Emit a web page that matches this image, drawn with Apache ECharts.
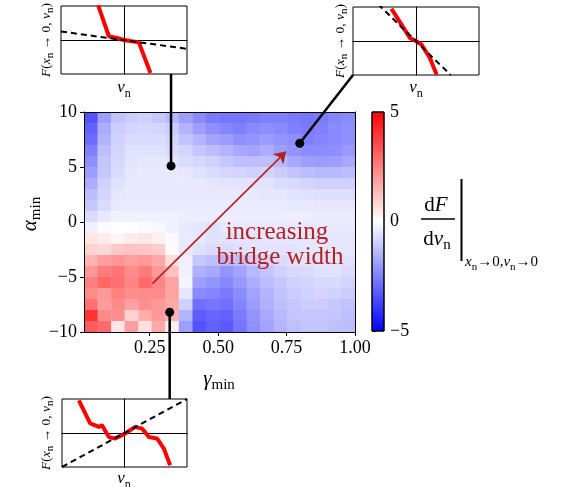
<!DOCTYPE html>
<html>
<head>
<meta charset="utf-8">
<script src="https://cdn.jsdelivr.net/npm/echarts@6/dist/echarts.min.js"></script>
<style>
html, body { margin: 0; padding: 0; background: #fff; }
#chart { width: 568px; height: 487px; }
</style>
</head>
<body>
<div id="chart"></div>
<script>
// cell centres of the scan
const gammaCenters = [0.035, 0.084, 0.134, 0.183, 0.233, 0.282, 0.332, 0.381, 0.431, 0.480,
  0.530, 0.579, 0.629, 0.678, 0.728, 0.777, 0.827, 0.876, 0.926, 0.975];
const alphaCenters = [9.5, 8.5, 7.5, 6.5, 5.5, 4.5, 3.5, 2.5, 1.5, 0.5,
  -0.5, -1.5, -2.5, -3.5, -4.5, -5.5, -6.5, -7.5, -8.5, -9.5];
// dF/dv at the origin, one row per alpha (top row first)
const dFdv = [
  [-3.4, -1.9, -1.2, -1.0, -0.9, -1.1, -1.4, -1.9, -2.3, -2.6, -2.7, -2.7, -2.6, -2.5, -2.5, -2.6, -2.7, -2.6, -2.4, -2.3],
  [-3.1, -1.6, -1.0, -0.85, -0.8, -0.85, -1.0, -1.5, -1.9, -2.2, -2.4, -2.5, -2.3, -2.2, -2.3, -2.5, -2.6, -2.5, -2.3, -2.2],
  [-2.9, -1.5, -0.9, -0.7, -0.7, -0.7, -0.85, -1.2, -1.45, -1.8, -1.95, -2.2, -2.1, -1.95, -2.1, -2.2, -2.5, -2.4, -2.3, -2.2],
  [-2.5, -1.3, -0.85, -0.6, -0.6, -0.6, -0.7, -0.85, -1.1, -1.3, -1.5, -1.7, -1.8, -1.6, -1.9, -2.1, -2.25, -2.25, -2.2, -2.0],
  [-2.2, -1.15, -0.8, -0.55, -0.5, -0.5, -0.55, -0.7, -0.8, -0.9, -1.1, -1.25, -1.3, -1.25, -1.4, -1.7, -1.9, -1.95, -1.9, -1.7],
  [-1.9, -1.1, -0.7, -0.5, -0.45, -0.45, -0.45, -0.5, -0.6, -0.7, -0.8, -0.85, -0.9, -0.85, -1.0, -1.2, -1.3, -1.4, -1.4, -1.3],
  [-1.6, -0.9, -0.6, -0.45, -0.45, -0.45, -0.45, -0.45, -0.45, -0.5, -0.55, -0.55, -0.55, -0.55, -0.7, -0.75, -0.85, -0.9, -0.9, -0.9],
  [-1.3, -0.85, -0.5, -0.45, -0.45, -0.45, -0.45, -0.45, -0.45, -0.45, -0.45, -0.45, -0.45, -0.5, -0.5, -0.55, -0.6, -0.65, -0.65, -0.65],
  [-1.1, -0.7, -0.45, -0.4, -0.4, -0.4, -0.4, -0.4, -0.4, -0.4, -0.4, -0.4, -0.4, -0.4, -0.4, -0.45, -0.45, -0.5, -0.5, -0.5],
  [-0.7, -0.45, -0.3, -0.3, -0.3, -0.3, -0.3, -0.35, -0.35, -0.35, -0.35, -0.35, -0.35, -0.35, -0.35, -0.35, -0.35, -0.4, -0.4, -0.4],
  [-0.3, -0.1, 0.0, 0.0, -0.1, -0.15, -0.3, -0.45, -0.5, -0.6, -0.45, -0.45, -0.45, -0.45, -0.45, -0.45, -0.45, -0.45, -0.45, -0.45],
  [0.5, 0.35, 0.2, 0.4, 0.5, 0.3, -0.1, -0.4, -0.5, -0.6, -0.55, -0.55, -0.55, -0.5, -0.5, -0.5, -0.5, -0.5, -0.5, -0.5],
  [0.9, 0.75, 1.1, 1.2, 1.15, 1.0, 0.1, -0.45, -0.6, -0.7, -0.7, -0.6, -0.55, -0.55, -0.55, -0.55, -0.5, -0.5, -0.5, -0.5],
  [1.5, 1.9, 2.1, 1.9, 2.0, 1.7, 0.65, -0.3, -1.1, -1.25, -1.4, -1.25, -1.0, -0.85, -0.7, -0.6, -0.55, -0.55, -0.55, -0.6],
  [2.0, 2.6, 2.7, 2.3, 2.6, 2.0, 1.25, -0.3, -1.55, -1.7, -2.1, -1.8, -1.4, -1.15, -0.9, -0.75, -0.7, -0.6, -0.6, -0.7],
  [2.5, 3.0, 2.8, 2.4, 2.9, 2.4, 1.8, -0.2, -1.9, -2.1, -2.35, -2.0, -1.6, -1.3, -1.1, -0.9, -0.85, -0.75, -0.75, -0.85],
  [2.3, 2.0, 2.5, 2.25, 2.3, 2.3, 1.8, -0.5, -2.3, -2.4, -2.6, -2.25, -1.8, -1.5, -1.2, -1.0, -0.9, -0.85, -0.9, -1.0],
  [2.8, 1.95, 2.3, 1.85, 2.2, 2.0, 1.7, -0.9, -2.8, -2.7, -2.8, -2.4, -1.95, -1.55, -1.25, -1.1, -1.0, -1.0, -1.1, -1.2],
  [4.0, 2.3, 2.2, 0.9, 1.6, 2.0, 1.55, -1.5, -3.2, -3.0, -3.1, -2.6, -2.1, -1.7, -1.4, -1.15, -1.1, -1.1, -1.15, -1.25],
  [3.2, 2.9, 0.5, 1.9, 0.6, 1.7, 0.3, -1.9, -3.4, -3.1, -3.25, -2.7, -2.2, -1.8, -1.5, -1.25, -1.15, -1.15, -1.25, -1.3]
];
const gammaTicks = [0.25, 0.5, 0.75, 1.0];
const colorTicks = [-5, 0, 5];

// picked points (gamma, alpha)
const pickGamma = [0.328, 0.798, 0.323];
const pickAlpha = [5.1, 7.15, -8.2];
// arrow "increasing bridge width"
const arrowGamma = [0.26, 0.748];
const arrowAlpha = [-5.6, 6.4];

// inset force curves F(v_n), normalised
const curveAx = [-0.41, -0.24, -0.1, 0.0, 0.1, 0.235, 0.42];
const curveAy = [1.02, 0.11, 0.05, 0.0, -0.03, -0.07, -0.97];
const slopeAx = [-1, 1];
const slopeAy = [0.25, -0.26];
const curveBx = [-0.39, -0.23, -0.095, 0.0, 0.09, 0.22, 0.33];
const curveBy = [0.95, 0.48, 0.085, 0.0, -0.11, -0.5, -1.0];
const slopeBx = [-0.6, 0.55];
const slopeBy = [1.08, -1.0];
const curveCx = [-0.73, -0.55, -0.41, -0.36, -0.25, -0.15, 0.01, 0.17, 0.28, 0.39, 0.52, 0.63, 0.73];
const curveCy = [0.96, 0.28, 0.18, 0.23, -0.12, -0.16, -0.02, 0.18, 0.13, -0.12, -0.16, -0.46, -0.95];
const slopeCx = [-1, 1];
const slopeCy = [-1, 1];

const serif = "'Liberation Serif', 'DejaVu Serif', serif";
const red = '#b22222';
const cellW = 0.0495, cellH = 1;

let heatData = [];
alphaCenters.forEach(function (a, r) {
  gammaCenters.forEach(function (g, c) {
    heatData.push([g, a, dFdv[r][c]]);
  });
});

function zip(xs, ys) {
  return xs.map(function (x, i) { return [x, ys[i]]; });
}
function minus(v) {
  return String(v).replace('-', '\u2212');
}

function insetX(gi) {
  return {
    gridIndex: gi, type: 'value', min: -1, max: 1,
    axisLine: { show: true, onZero: true, lineStyle: { color: '#000', width: 1 } },
    axisTick: { show: false }, axisLabel: { show: false }, splitLine: { show: false }
  };
}
function insetY(gi) {
  return {
    gridIndex: gi, type: 'value', min: -1, max: 1,
    axisLine: { show: true, onZero: true, lineStyle: { color: '#000', width: 1 } },
    axisTick: { show: false }, axisLabel: { show: false }, splitLine: { show: false }
  };
}
function redCurve(ai, xs, ys) {
  return {
    type: 'line', xAxisIndex: ai, yAxisIndex: ai, data: zip(xs, ys),
    symbol: 'none', clip: true, animation: false,
    lineStyle: { color: '#ff0000', width: 4 }
  };
}
function dashed(ai, xs, ys) {
  return {
    type: 'line', xAxisIndex: ai, yAxisIndex: ai, data: zip(xs, ys),
    symbol: 'none', clip: true, animation: false,
    lineStyle: { color: '#000', width: 2, type: [6, 4] }
  };
}

let chart = echarts.init(document.getElementById('chart'));

let option = {
  animation: false,
  backgroundColor: '#fff',
  grid: [
    { left: 84, top: 112, width: 271, height: 220 },
    { left: 372, top: 112, width: 12, height: 219 },
    { left: 61, top: 6, width: 126, height: 68, show: true, borderColor: '#000', borderWidth: 1 },
    { left: 353, top: 7, width: 126, height: 68, show: true, borderColor: '#000', borderWidth: 1 },
    { left: 62, top: 399, width: 125, height: 68, show: true, borderColor: '#000', borderWidth: 1 }
  ],
  visualMap: {
    type: 'continuous', show: false, min: -5, max: 5, dimension: 2, seriesIndex: 0,
    inRange: { color: ['#0000ff', '#ffffff', '#ff0000'] }
  },
  xAxis: [
    {
      gridIndex: 0, type: 'value', min: 0.01, max: 1, z: 10,
      axisLine: { show: true, onZero: false, lineStyle: { color: '#000', width: 1 } },
      axisTick: { show: true, length: 4, customValues: gammaTicks, lineStyle: { color: '#000' } },
      axisLabel: {
        customValues: gammaTicks, color: '#000', fontFamily: serif, fontSize: 18, margin: 7,
        formatter: function (v) { return v.toFixed(2); }
      },
      splitLine: { show: false }
    },
    {
      gridIndex: 0, type: 'value', min: 0.01, max: 1, position: 'top', z: 10,
      axisLine: { show: true, onZero: false, lineStyle: { color: '#000', width: 1 } },
      axisTick: { show: false }, axisLabel: { show: false }, splitLine: { show: false }
    },
    { gridIndex: 1, type: 'value', min: 0, max: 1, show: false },
    insetX(2), insetX(3), insetX(4)
  ],
  yAxis: [
    {
      gridIndex: 0, type: 'value', min: -10, max: 10, interval: 5, z: 10,
      axisLine: { show: true, onZero: false, lineStyle: { color: '#000', width: 1 } },
      axisTick: { show: true, length: 4, lineStyle: { color: '#000' } },
      axisLabel: { color: '#000', fontFamily: serif, fontSize: 18, margin: 7, formatter: minus },
      splitLine: { show: false }
    },
    {
      gridIndex: 0, type: 'value', min: -10, max: 10, position: 'right', z: 10,
      axisLine: { show: true, onZero: false, lineStyle: { color: '#000', width: 1 } },
      axisTick: { show: false }, axisLabel: { show: false }, splitLine: { show: false }
    },
    {
      gridIndex: 1, type: 'value', min: -5, max: 5, interval: 5, position: 'right',
      axisLine: { show: false },
      axisTick: { show: true, length: 4, lineStyle: { color: '#000' } },
      axisLabel: { color: '#000', fontFamily: serif, fontSize: 18, margin: 6, formatter: minus },
      splitLine: { show: false }
    },
    insetY(2), insetY(3), insetY(4)
  ],
  series: [
    {
      type: 'custom', xAxisIndex: 0, yAxisIndex: 0, data: heatData, encode: { x: 0, y: 1 },
      renderItem: function (params, api) {
        let g = api.value(0), a = api.value(1);
        let p1 = api.coord([g - cellW / 2, a + cellH / 2]);
        let p2 = api.coord([g + cellW / 2, a - cellH / 2]);
        return {
          type: 'rect',
          shape: { x: p1[0], y: p1[1], width: p2[0] - p1[0] + 0.5, height: p2[1] - p1[1] + 0.5 },
          style: { fill: api.visual('color') }
        };
      }
    },
    {
      type: 'custom', xAxisIndex: 2, yAxisIndex: 2, data: [[0, colorTicks[0], colorTicks[2]]],
      renderItem: function (params, api) {
        let p1 = api.coord([0, api.value(2)]);
        let p2 = api.coord([1, api.value(1)]);
        return {
          type: 'rect',
          shape: { x: p1[0], y: p1[1], width: p2[0] - p1[0], height: p2[1] - p1[1] },
          style: {
            fill: new echarts.graphic.LinearGradient(0, 0, 0, 1, [
              { offset: 0, color: '#ff0000' },
              { offset: 0.5, color: '#ffffff' },
              { offset: 1, color: '#0000ff' }
            ]),
            stroke: '#000', lineWidth: 1
          }
        };
      }
    },
    {
      type: 'lines', coordinateSystem: 'cartesian2d', xAxisIndex: 0, yAxisIndex: 0, z: 4,
      symbol: ['none', 'arrow'], symbolSize: 11,
      lineStyle: { color: red, width: 1.6, opacity: 1 },
      data: [{ coords: zip(arrowGamma, arrowAlpha) }]
    },
    {
      type: 'scatter', xAxisIndex: 0, yAxisIndex: 0, z: 6, symbolSize: 9,
      itemStyle: { color: '#000', opacity: 1 },
      data: zip(pickGamma, pickAlpha)
    },
    redCurve(3, curveAx, curveAy), dashed(3, slopeAx, slopeAy),
    redCurve(4, curveBx, curveBy), dashed(4, slopeBx, slopeBy),
    redCurve(5, curveCx, curveCy), dashed(5, slopeCx, slopeCy)
  ]
};
chart.setOption(option);

// texts and connectors
let pA = chart.convertToPixel({ gridIndex: 0 }, [pickGamma[0], pickAlpha[0]]);
let pB = chart.convertToPixel({ gridIndex: 0 }, [pickGamma[1], pickAlpha[1]]);
let pC = chart.convertToPixel({ gridIndex: 0 }, [pickGamma[2], pickAlpha[2]]);

const richMath = function (size, subScale) {
  return {
    i: { fontFamily: serif, fontStyle: 'italic', fontSize: size, lineHeight: size + 6, color: '#000' },
    r: { fontFamily: serif, fontSize: size, lineHeight: size + 6, color: '#000' },
    s: { fontFamily: serif, fontSize: Math.round(size * (subScale || 0.7)), lineHeight: size + 6, verticalAlign: 'bottom', color: '#000' }
  };
};
function mathText(x, y, text, size, rot, align, subScale) {
  return {
    type: 'text', x: x, y: y, rotation: rot || 0, z: 3,
    style: { text: text, rich: richMath(size, subScale), align: align || 'center', verticalAlign: 'middle' }
  };
}
function stick(x1, y1, x2, y2, w) {
  return {
    type: 'line', z: 3, shape: { x1: x1, y1: y1, x2: x2, y2: y2 },
    style: { stroke: '#000', lineWidth: w }
  };
}

const fLabel = '{i|F}{r|(}{i|x}{s|n}{r| → 0, }{i|v}{s|n}{r|)}';
chart.setOption({
  graphic: [
    stick(pA[0], pA[1], pA[0], 74, 2.5),
    stick(pB[0], pB[1], 353, 75, 2.5),
    stick(pC[0], pC[1], pC[0], 399, 2.5),
    mathText(30, 214, '{i|α}{s|min}', 21, Math.PI / 2),
    mathText(219, 379, '{i|γ}{s|min}', 21, 0),
    {
      type: 'text', x: 277, y: 232, z: 3,
      style: { text: 'increasing', fontFamily: serif, fontSize: 25, fill: red, align: 'center', verticalAlign: 'middle' }
    },
    {
      type: 'text', x: 280, y: 257, z: 3,
      style: { text: 'bridge width', fontFamily: serif, fontSize: 25, fill: red, align: 'center', verticalAlign: 'middle' }
    },
    mathText(436, 205, '{r|d}{i|F}', 21, 0),
    stick(421, 219, 455, 219, 1.5),
    mathText(437, 239, '{r|d}{i|v}{s|n}', 21, 0),
    stick(461.5, 179, 461.5, 261, 2),
    mathText(465, 262, '{i|x}{s|n}{r|→0,}{i|v}{s|n}{r|→0}', 15, 0, 'left', 0.75),
    mathText(124, 88, '{i|v}{s|n}', 17, 0),
    mathText(416, 88, '{i|v}{s|n}', 17, 0),
    mathText(124, 479, '{i|v}{s|n}', 17, 0),
    mathText(46, 40, fLabel, 13.5, Math.PI / 2, 'center', 0.78),
    mathText(340, 41, fLabel, 13.5, Math.PI / 2, 'center', 0.78),
    mathText(46, 433, fLabel, 13.5, Math.PI / 2, 'center', 0.78)
  ]
});
</script>
</body>
</html>
